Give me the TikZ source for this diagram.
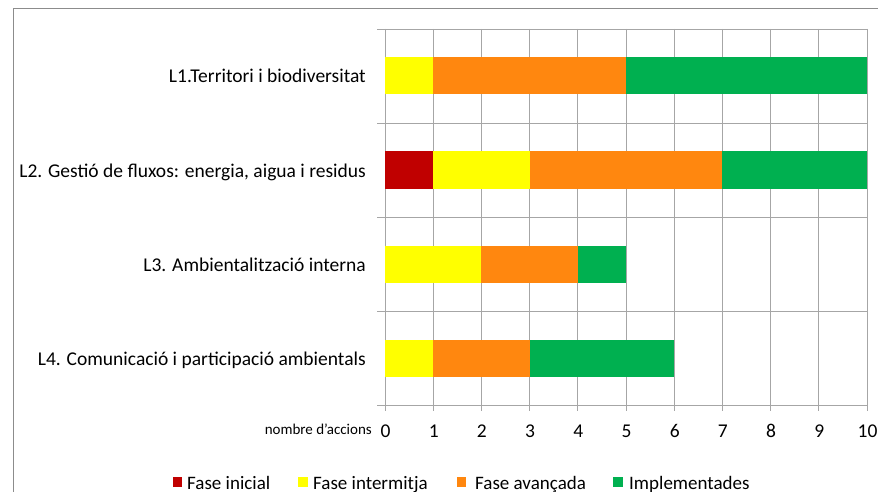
\documentclass[tikz,border=0pt]{standalone}
\usepackage{fontspec}
\setmainfont{Carlito}
\definecolor{cred}{HTML}{C00000}
\definecolor{cyel}{HTML}{FFFF00}
\definecolor{cora}{HTML}{FF870F}
\definecolor{cgrn}{HTML}{00B050}
\definecolor{cgrid}{HTML}{A6A6A6}
\definecolor{cframe}{HTML}{8C8C8C}
\begin{document}
\begin{tikzpicture}[x=1pt,y=-1pt,
  grid/.style={draw=cgrid,line width=0.9pt},
  catlabel/.style={anchor=base east,font=\fontsize{19.5}{22}\selectfont,inner sep=0pt},
  ticklabel/.style={anchor=base,font=\fontsize{19.5}{22}\selectfont,inner sep=0pt},
  legsq/.style={minimum size=9.5pt,inner sep=0pt,draw=none},
  legtext/.style={anchor=base west,font=\fontsize{19}{22}\selectfont,inner sep=0pt}]
\useasboundingbox (0,0) rectangle (878,492);
\fill[white] (0,0) rectangle (878,492);
% frame
\draw[cframe,line width=0.9pt] (13.5,492) -- (13.5,8.5) -- (878,8.5);
% vertical gridlines
\foreach \i in {0,...,10} {
  \draw[grid] ({385+48.2*\i},29) -- ({385+48.2*\i},411);
}
% horizontal lines
\foreach \y in {29,123,217,311,405} {
  \draw[grid] (377,\y) -- (867,\y);
}
% bars
\foreach \a/\b/\c/\col in {0/1/76/cyel,1/5/76/cora,5/10/76/cgrn,
  0/1/170/cred,1/3/170/cyel,3/7/170/cora,7/10/170/cgrn,
  0/2/264/cyel,2/4/264/cora,4/5/264/cgrn,
  0/1/358/cyel,1/3/358/cora,3/6/358/cgrn} {
  \fill[\col] ({385+48.2*\a},{\c-18.5}) rectangle ({385+48.2*\b},{\c+18.5});
}
% category labels
\node[catlabel] (c1) at (366,83) {L1.Territori i biodiversitat};
\node[catlabel] (c2) at (366,177) {L2. Gestió de fluxos: energia, aigua i residus};
\node[catlabel] (c3) at (366,271) {L3. Ambientalització interna};
\node[catlabel] (c4) at (366,365) {L4. Comunicació i participació ambientals};
% tick labels
\foreach \i in {0,...,10} {
  \node[ticklabel] (t\i) at ({385.5+48.2*\i},437) {\i};
}
\node[anchor=base east,font=\fontsize{15}{17}\selectfont,inner sep=0pt] (axt) at (372,434) {nombre d'accions};
% legend
\node[legsq,fill=cred] (l1) at (177.5,482) {};
\node[legtext] (lt1) at (187,489) {Fase inicial};
\node[legsq,fill=cyel] (l2) at (303,482) {};
\node[legtext] (lt2) at (313,489) {Fase intermitja};
\node[legsq,fill=cora] (l3) at (461.5,482) {};
\node[legtext] (lt3) at (475,489) {Fase avançada};
\node[legsq,fill=cgrn] (l4) at (618,482) {};
\node[legtext] (lt4) at (629,489) {Implementades};
\end{tikzpicture}
\end{document}
